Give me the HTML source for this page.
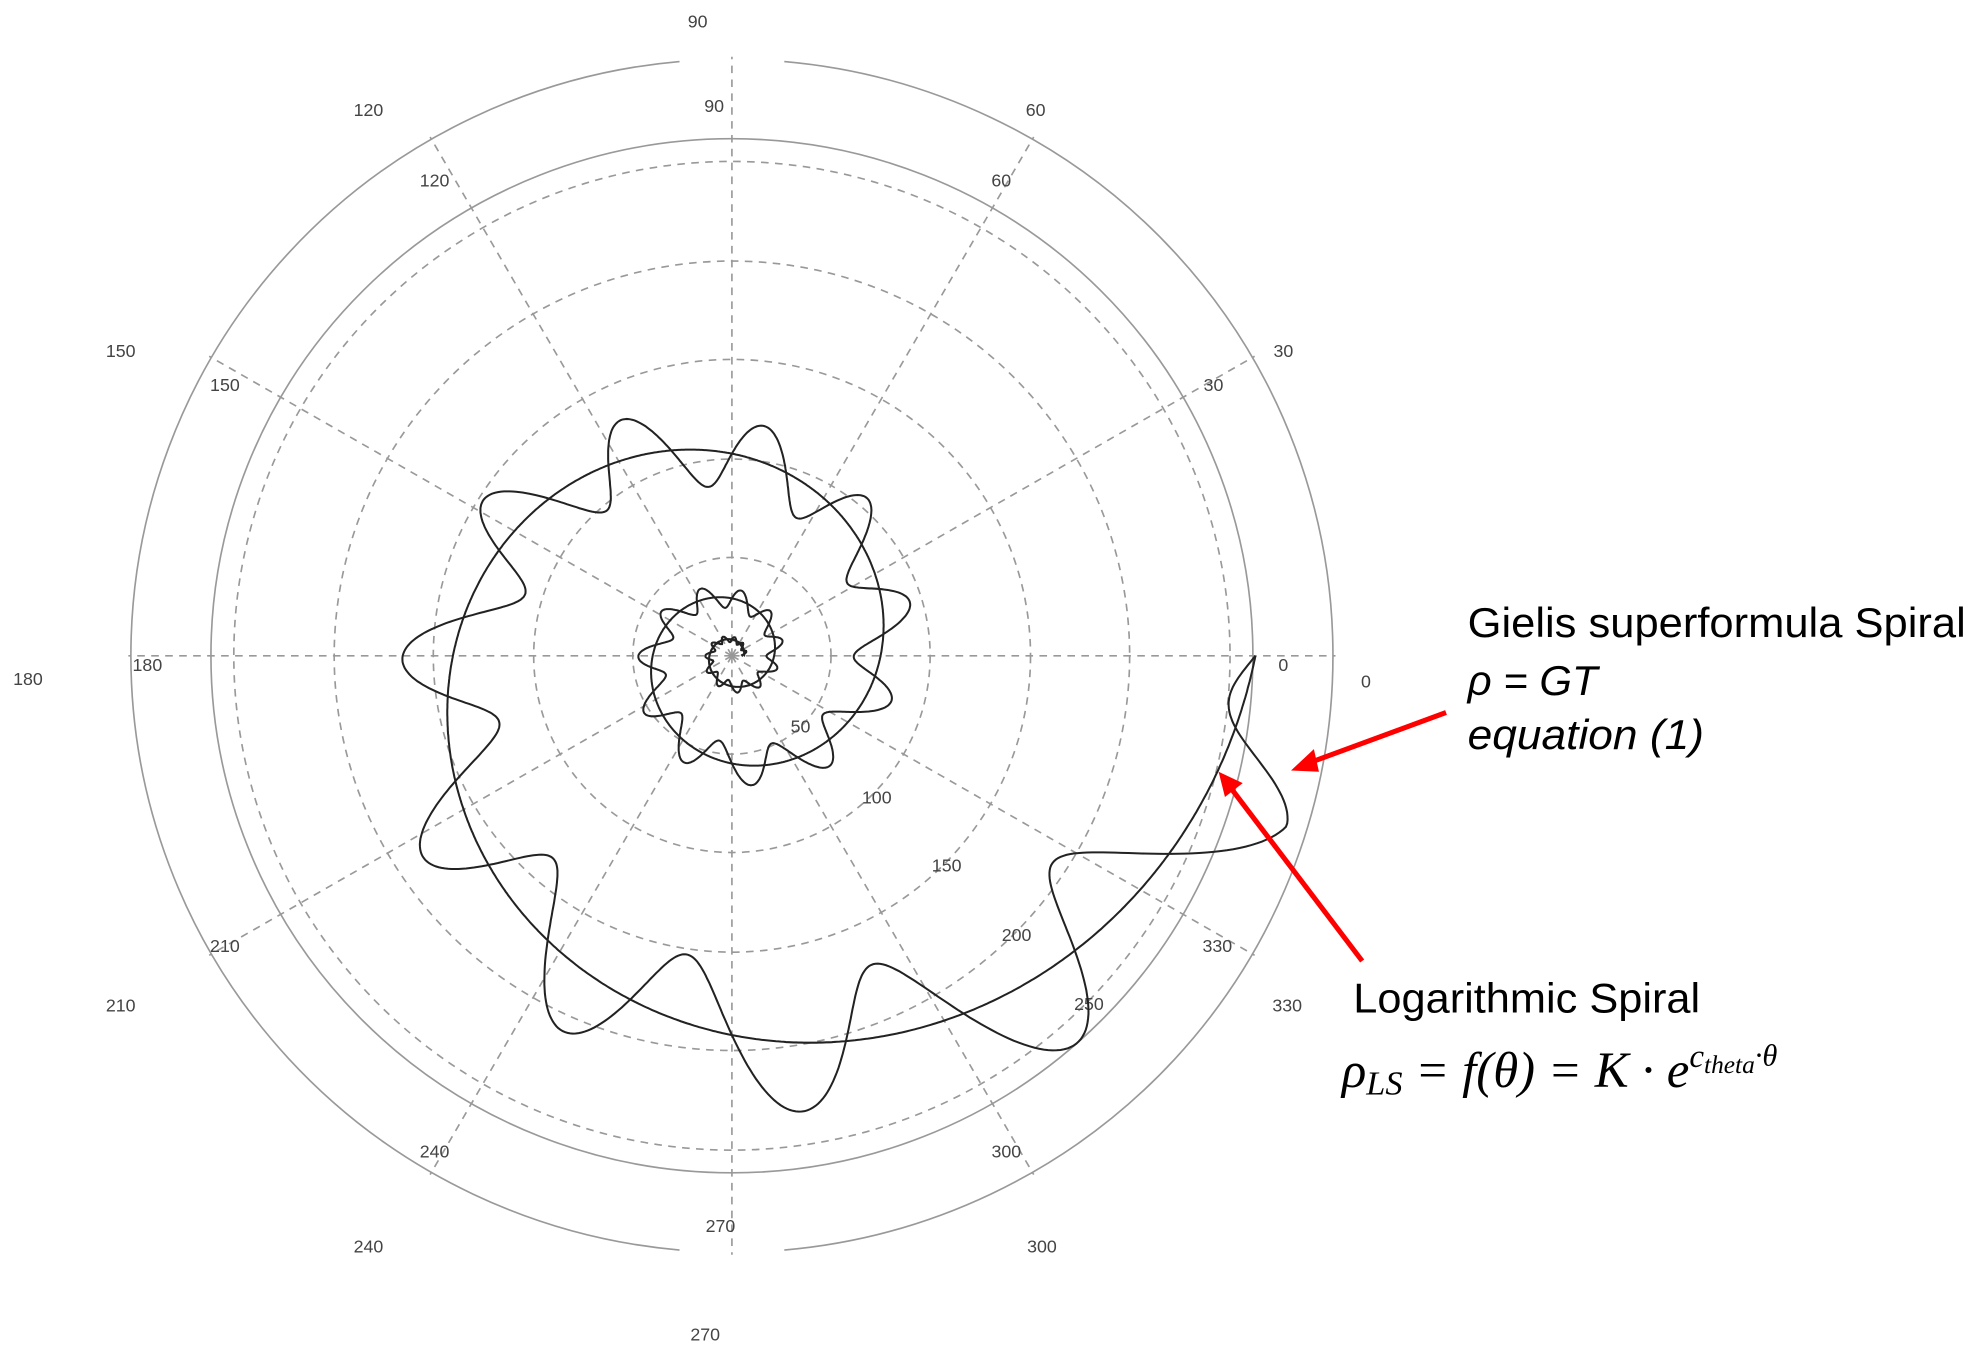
<!DOCTYPE html>
<html><head><meta charset="utf-8"><style>
html,body{margin:0;padding:0;background:#fff;width:1981px;height:1362px;overflow:hidden}
svg{display:block}
.t{font-family:"Liberation Sans",Arial,sans-serif;font-size:14px;fill:#444}
.a{font-family:"Liberation Sans",sans-serif;font-size:33px;fill:#000}
</style></head><body>
<svg id="s" width="1981" height="1362" viewBox="0 0 1559 1080" preserveAspectRatio="none" xmlns="http://www.w3.org/2000/svg">
<g id="grid" fill="none" stroke="#999" stroke-width="1.3"></g>
<g id="lbl"></g>
<path id="ls" fill="none" stroke="#222" stroke-width="1.6"/>
<path id="gs" fill="none" stroke="#222" stroke-width="1.6"/>
<text class="a" x="1155" y="505" textLength="392" lengthAdjust="spacingAndGlyphs">Gielis superformula Spiral</text>
<text class="a" x="1155" y="551" font-style="italic">ρ = GT</text>
<text class="a" x="1155" y="594" font-style="italic" textLength="186" lengthAdjust="spacingAndGlyphs">equation (1)</text>
<text class="a" x="1065" y="803" textLength="273" lengthAdjust="spacingAndGlyphs">Logarithmic Spiral</text>
<text x="1056" y="862" font-family="Liberation Serif,serif" font-style="italic" font-size="40" fill="#000">ρ<tspan font-size="27" dy="6">LS</tspan><tspan dy="-6"> = f(θ) = K · e</tspan><tspan font-size="26" dy="-16">c</tspan><tspan font-size="20" dy="5">theta</tspan><tspan font-size="24" dy="-6">·θ</tspan></text>
<g stroke="#f00" stroke-width="4" fill="#f00">
<line x1="1138" y1="565" x2="1030" y2="605"/>
<polygon points="1016,611 1034,594 1038,612" stroke="none"/>
<line x1="1072" y1="762" x2="968" y2="624"/>
<polygon points="959,612 978,621 964,632" stroke="none"/>
</g>
</svg>
<script>
var cx=576,cy=520,ns="http://www.w3.org/2000/svg";
var g=document.getElementById('grid'),L=document.getElementById('lbl');
function el(p,t,a){var e=document.createElementNS(ns,t);for(var k in a)e.setAttribute(k,a[k]);p.appendChild(e);return e;}
[78,156,235,313,392].forEach(function(r){el(g,'circle',{cx:cx,cy:cy,r:r,'stroke-dasharray':'6 5'});});
el(g,'circle',{cx:cx,cy:cy,r:410});
function arcpt(r,d){var a=d*Math.PI/180;return [cx+r*Math.cos(a),cy-r*Math.sin(a)];}
var R=473,p1=arcpt(R,85),p2=arcpt(R,95),p3=arcpt(R,265),p4=arcpt(R,275);
el(g,'path',{d:'M'+p1+' A'+R+' '+R+' 0 0 1 '+p4+' M'+p3+' A'+R+' '+R+' 0 0 1 '+p2});
for(var d=0;d<360;d+=30){var e=arcpt(475,d);el(g,'line',{x1:cx,y1:cy,x2:e[0],y2:e[1],'stroke-dasharray':'6 5'});}
function txt(x,y,s){var t=el(L,'text',{x:x,y:y+5,class:'t','text-anchor':'middle'});t.textContent=s;}
[[549,17,90],[815,87,60],[1010,278,30],[1075,540,0],[1013,797,330],[820,988,300],[555,1058,270],[290,988,240],[95,797,210],[22,538,180],[95,278,150],[290,87,120],
[562,84,90],[788,143,60],[955,305,30],[1010,527,0],[958,750,330],[792,913,300],[567,972,270],[342,913,240],[177,750,210],[116,527,180],[177,305,150],[342,143,120],
[630,576,50],[690,632,100],[745,686,150],[800,741,200],[857,796,250]].forEach(function(a){txt(a[0],a[1],a[2]);});
var c=Math.log(0.73)/(Math.PI/2),A='',B='';
for(var k=0;k<=3000;k++){var ph=k/3000*6*Math.PI;var r=412*Math.exp(c*ph);var rg=r*(1+0.18*Math.sin(11*ph+1.5*Math.PI)*Math.min(1,ph/0.3));
var x=cx+r*Math.cos(-ph)*1,y=cy-r*Math.sin(-ph);var xg=cx+rg*Math.cos(-ph),yg=cy-rg*Math.sin(-ph);
A+=(k?'L':'M')+x.toFixed(1)+' '+y.toFixed(1);B+=(k?'L':'M')+xg.toFixed(1)+' '+yg.toFixed(1);}
document.getElementById('ls').setAttribute('d',A);document.getElementById('gs').setAttribute('d',B);
</script>
</body></html>
